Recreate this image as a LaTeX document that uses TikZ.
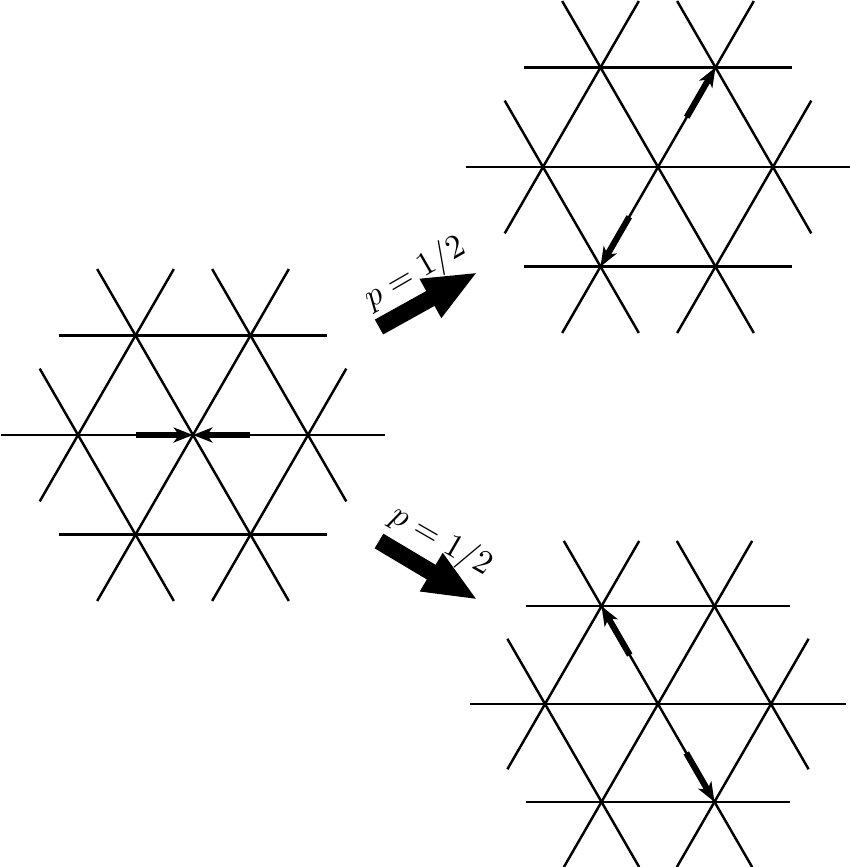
\documentclass[tikz,border=0pt]{standalone}
\usetikzlibrary{arrows.meta,calc}
\tikzset{
  latline/.style={line width=1.4pt, line cap=butt},
  hoparrow/.style={line width=3.5pt, -{Stealth[length=11pt,width=8.5pt,inset=3pt]}},
  bigarrow/.style={line width=9.7pt, -{Triangle[length=31pt,width=23pt]}},
  plabel/.style={inner sep=0pt, scale=1.9},
}
\newcommand{\drawlattice}[4]{%
  \begin{scope}[shift={(#2,#3)}, x=#4, y=#4]
    \foreach \t in {0,60,120}{
      \draw[latline] (\t+180:1.6667) -- (\t:1.6667);
      \foreach \k in {-1,1}{
        \draw[latline] ([shift={(\t+90:\k*0.866)}]\t+180:1.1667) -- ([shift={(\t+90:\k*0.866)}]\t:1.1667);
      }
    }
    \coordinate (#1-c) at (0,0);
    \foreach \i in {0,...,5}{
      \coordinate (#1-\i) at (\i*60:1);
      \coordinate (#1-m\i) at (\i*60:0.5);
    }
  \end{scope}}
\begin{document}
\begin{tikzpicture}[x=0.02cm, y=-0.02cm]
  \useasboundingbox (0,0) rectangle (850,867);
  \drawlattice{L}{193}{435}{2.3cm}
  \drawlattice{T}{658}{167}{2.3cm}
  \drawlattice{B}{658}{704}{2.26cm}

  \draw[hoparrow] (L-m3) -- (L-c);
  \draw[hoparrow] (L-m0) -- (L-c);
  \draw[hoparrow] (T-m1) -- (T-1);
  \draw[hoparrow] (T-m4) -- (T-4);
  \draw[hoparrow] (B-m2) -- (B-2);
  \draw[hoparrow] (B-m5) -- (B-5);

  \coordinate (ua-s) at (379,327);
  \coordinate (ua-e) at (478,272);
  \draw[bigarrow] (ua-s) -- (ua-e);
  \node[plabel, rotate=30] (ulab) at (415,273) {$p=1/2$};

  \coordinate (la-s) at (379,541);
  \coordinate (la-e) at (478,600);
  \draw[bigarrow] (la-s) -- (la-e);
  \node[plabel, rotate=-30] (llab) at (441,541) {$p=1/2$};
\end{tikzpicture}
\end{document}
